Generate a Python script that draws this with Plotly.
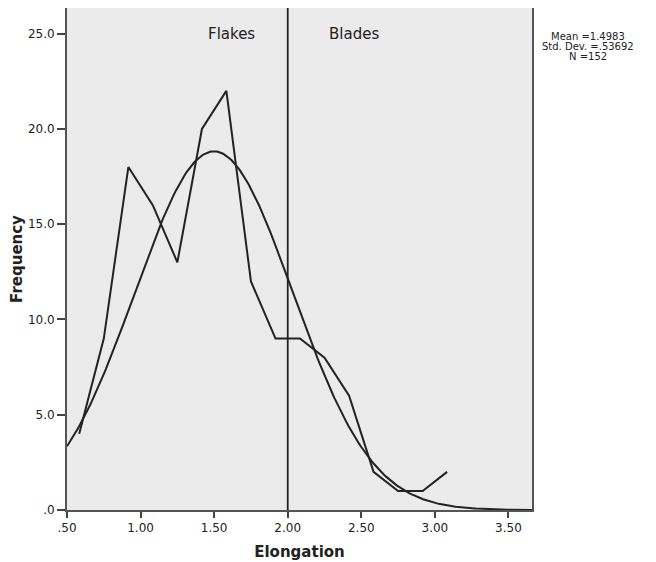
import numpy as np
import plotly.graph_objects as go

# Frequency polygon (bin midpoints, counts)
mid = [0.583, 0.750, 0.917, 1.083, 1.250, 1.417, 1.583, 1.750, 1.917,
       2.083, 2.250, 2.417, 2.583, 2.750, 2.917, 3.083]
freq = [4, 9, 18, 16, 13, 20, 22, 12, 9, 9, 8, 6, 2, 1, 1, 2]

# Stated summary statistics
mean_val = 1.4983
std_val = 0.53692
n_val = 152
bin_width = 1 / 6
stat_lines = ["Mean =1.4983", "Std. Dev. =.53692", "N =152"]

x_ticks = [0.5, 1.0, 1.5, 2.0, 2.5, 3.0, 3.5]
x_tick_labels = [".50", "1.00", "1.50", "2.00", "2.50", "3.00", "3.50"]
y_ticks = [0, 5, 10, 15, 20, 25]
y_tick_labels = [".0", "5.0", "10.0", "15.0", "20.0", "25.0"]

divider = 2.0
region_labels = ["Flakes", "Blades"]
region_x = [1.62, 2.45]

FONT = "DejaVu Sans, Liberation Sans, Arial, sans-serif"
INK = "#222222"

# fitted normal curve from stated mean / SD / N
xn = np.linspace(0.5, 3.66, 300)
yn = n_val * bin_width / (std_val * np.sqrt(2 * np.pi)) * np.exp(-0.5 * ((xn - mean_val) / std_val) ** 2)

fig = go.Figure()
fig.add_trace(go.Scatter(x=xn, y=yn, mode="lines",
                         line=dict(color=INK, width=2), hoverinfo="skip"))
fig.add_trace(go.Scatter(x=mid, y=freq, mode="lines",
                         line=dict(color=INK, width=2)))

fig.add_shape(type="line", xref="x", yref="paper", x0=divider, x1=divider,
              y0=0, y1=1, line=dict(color=INK, width=1.8))

for lab, xv in zip(region_labels, region_x):
    fig.add_annotation(x=xv, y=25.0, xref="x", yref="y", text=lab,
                       showarrow=False, font=dict(size=15, color=INK, family=FONT))

for i, s in enumerate(stat_lines):
    fig.add_annotation(xref="paper", yref="paper", x=1.0, y=1.0,
                       xshift=56, yshift=-28 - 10 * i,
                       text=s, showarrow=False, xanchor="center", yanchor="middle",
                       borderpad=0,
                       font=dict(size=10, color=INK, family=FONT))

fig.update_layout(
    width=648, height=554,
    margin=dict(l=59, r=124, t=0, b=52),
    paper_bgcolor="white",
    plot_bgcolor="#ebebeb",
    showlegend=False,
    font=dict(family=FONT, color=INK, size=12),
)
fig.update_xaxes(range=[0.5, 3.66], tickvals=x_ticks, ticktext=x_tick_labels,
                 showgrid=False, zeroline=False, ticks="outside", ticklen=6,
                 tickcolor="#444444", tickwidth=2, automargin=False,
                 tickfont=dict(size=12),
                 showline=True, linecolor="#555555", linewidth=2, mirror=True,
                 title=dict(text="<b>Elongation</b>", font=dict(size=15), standoff=12))
fig.update_yaxes(range=[0, 26.35], tickvals=y_ticks, ticktext=y_tick_labels,
                 showgrid=False, zeroline=False, ticks="outside", ticklen=8,
                 tickcolor="#444444", tickwidth=2, automargin=False,
                 tickfont=dict(size=12),
                 showline=True, linecolor="#555555", linewidth=2, mirror=True,
                 title=dict(text="<b>Frequency</b>", font=dict(size=15), standoff=6))

fig.write_html("out.html")
